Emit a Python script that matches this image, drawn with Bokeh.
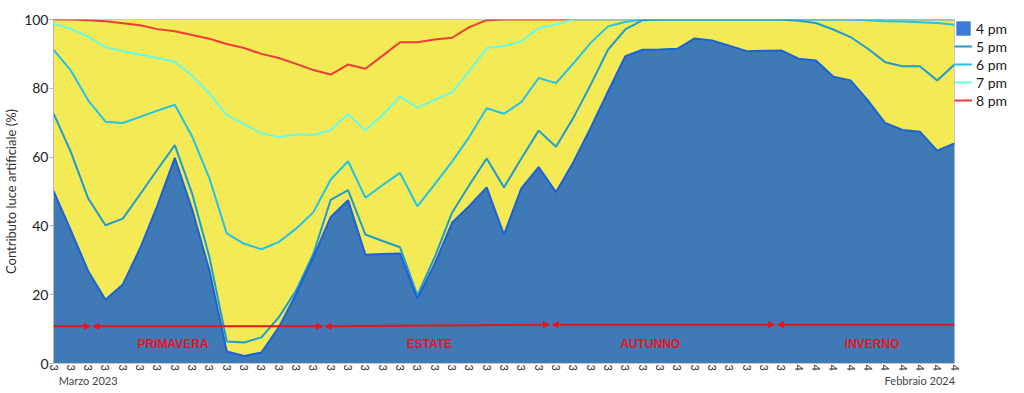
import math
from bokeh.plotting import figure
from bokeh.models import (Range1d, FixedTicker, Label, Arrow, NormalHead,
                          Legend, LegendItem, ColumnDataSource, LinearAxis)
from bokeh.embed import file_html
from bokeh.resources import INLINE

# ---------------- data ----------------
tick_labels = ["3", "3", "3", "3", "3", "3", "3", "3", "3", "3",
               "3", "3", "3", "3", "3", "3", "3", "3", "3", "3",
               "3", "3", "3", "3", "3", "3", "3", "3", "3", "3",
               "3", "3", "3", "3", "3", "3", "3", "3", "3", "3",
               "3", "3", "3", "4", "4", "4", "4", "4", "4", "4",
               "4", "4", "4"]

pm4 = [50.2, 38.7, 26.9, 18.5, 23.0, 33.5, 46.0, 59.8, 44.8, 27.0,
       3.5, 2.2, 3.2, 10.5, 20.2, 30.9, 42.6, 47.5, 31.6, 31.8,
       32.0, 18.8, 29.0, 40.9, 45.8, 51.2, 37.5, 50.9, 57.1, 49.8,
       58.5, 68.5, 79.0, 89.3, 91.2, 91.3, 91.5, 94.5, 93.9, 92.4,
       90.8, 90.9, 91.0, 88.6, 88.1, 83.4, 82.3, 76.5, 69.9, 67.9,
       67.4, 61.9, 64.0]

pm5 = [72.7, 61.5, 48.0, 40.2, 42.1, 49.2, 56.4, 63.5, 49.4, 30.9,
       6.4, 6.1, 7.6, 13.4, 21.2, 31.9, 47.6, 50.4, 37.5, 35.6,
       33.8, 19.8, 30.9, 43.8, 51.9, 59.6, 51.2, 59.6, 67.7, 63.0,
       71.4, 81.0, 91.2, 97.1, 99.8, 100, 100, 100, 100, 100,
       100, 100, 100, 99.6, 99.0, 97.1, 94.9, 91.5, 87.6, 86.4,
       86.4, 82.3, 86.9]

pm6 = [91.2, 85.2, 76.5, 70.3, 69.9, 71.7, 73.5, 75.2, 66.0, 53.8,
       37.8, 34.8, 33.2, 35.3, 39.2, 44.0, 53.5, 58.8, 48.2, 51.9,
       55.4, 45.7, 52.1, 58.7, 65.9, 74.2, 72.6, 76.0, 83.0, 81.5,
       87.2, 93.2, 98.0, 99.3, 100, 100, 100, 100, 100, 100,
       100, 100, 100, 100, 100, 100, 100, 99.8, 99.5, 99.4,
       99.2, 99.0, 98.5]

pm7 = [98.8, 97.3, 95.0, 92.0, 90.8, 89.8, 88.8, 87.7, 83.7, 78.5,
       72.2, 69.6, 66.9, 65.8, 66.6, 66.4, 67.9, 72.5, 67.7, 72.3,
       77.6, 74.4, 76.6, 78.9, 85.0, 91.7, 92.3, 93.6, 97.5, 98.5,
       100, 100, 100, 100, 100, 100, 100, 100, 100, 100,
       100, 100, 100, 100, 100, 100, 100, 100, 100, 100,
       100, 100, 100]

pm8 = [100, 100, 99.8, 99.5, 98.9, 98.3, 97.2, 96.6, 95.5, 94.4,
       92.9, 91.7, 90.0, 88.8, 87.1, 85.3, 84.0, 86.9, 85.7, 89.5,
       93.4, 93.4, 94.2, 94.7, 97.8, 99.8, 100, 100, 100, 100,
       100, 100, 100, 100, 100, 100, 100, 100, 100, 100,
       100, 100, 100, 100, 100, 100, 100, 100, 100, 100,
       100, 100, 100]

series_names = ["4 pm", "5 pm", "6 pm", "7 pm", "8 pm"]

season_names = ["PRIMAVERA", "ESTATE", "AUTUNNO", "INVERNO"]
season_bounds = [2.2, 15.6, 28.7, 41.7]     # week index of season change
season_line_level = [10.8, 10.8, 10.8, 11.3, 11.3, 11.3]
season_label_x = [6.9, 21.7, 34.45, 47.25]

period_labels = ["Marzo 2023", "Febbraio 2024"]
period_label_x = [2, 50]

# ---------------- styling ----------------
FONT = "Lato"
BOLD_FONT = "Liberation Sans"
c4_fill = "#3f7ab6"
c4_line = "#1a62d6"
c5 = "#1f9ccf"
c6 = "#22c2ea"
c7 = "#66fbe8"
c8 = "#ef3b3b"
red = "#e8141c"

x = list(range(len(tick_labels)))
n = len(x) - 1

p = figure(frame_width=901, frame_height=344, output_backend="svg",
           toolbar_location=None,
           x_range=Range1d(0, n), y_range=Range1d(0, 100),
           min_border_left=46, min_border_right=58, min_border_top=19,
           min_border_bottom=5)

p.background_fill_color = "#f3ea56"
p.border_fill_color = "white"
p.outline_line_color = "#c8c8c8"
p.xgrid.visible = False
p.ygrid.visible = False

# y axis
p.yaxis.ticker = FixedTicker(ticks=[0, 20, 40, 60, 80, 100])
p.yaxis.axis_label = "Contributo luce artificiale (%)"
p.yaxis.axis_label_text_font = FONT
p.yaxis.axis_label_text_font_size = "13px"
p.yaxis.axis_label_text_font_style = "normal"
p.yaxis.axis_label_text_color = "#333333"
p.yaxis.axis_label_standoff = 2
p.yaxis.major_label_text_font = FONT
p.yaxis.major_label_text_font_size = "14px"
p.yaxis.major_label_text_color = "#222222"
p.yaxis.major_label_standoff = 1
p.yaxis.axis_line_color = "#b8b8b8"
p.yaxis.major_tick_line_color = "#b8b8b8"
p.yaxis.major_tick_out = 4
p.yaxis.major_tick_in = 0
p.yaxis.minor_tick_line_color = None

# x axis (week ticks)
p.xaxis.ticker = FixedTicker(ticks=x)
p.xaxis.major_label_overrides = {i: lab for i, lab in zip(x, tick_labels)}
p.xaxis.major_label_orientation = "vertical"
p.xaxis.major_label_text_font = FONT
p.xaxis.major_label_text_font_size = "11px"
p.xaxis.major_label_text_color = "#333333"
p.xaxis.major_label_standoff = 1
p.xaxis.axis_line_color = "#c8c8c8"
p.xaxis.major_tick_line_color = None
p.xaxis.major_tick_out = 0
p.xaxis.major_tick_in = 0
p.xaxis.minor_tick_line_color = None
p.xaxis.minor_tick_out = 0

# second bottom axis carrying the period texts
ax2 = LinearAxis(ticker=FixedTicker(ticks=period_label_x),
                 major_label_overrides={k: t for k, t in zip(period_label_x, period_labels)},
                 axis_line_color=None, major_tick_line_color=None,
                 minor_tick_line_color=None, major_tick_out=0, major_tick_in=0,
                 minor_tick_out=0, major_label_standoff=0,
                 major_label_text_font=FONT, major_label_text_font_size="11px",
                 major_label_text_color="#444444")
p.add_layout(ax2, "below")

# ---------------- glyphs ----------------
src = ColumnDataSource(dict(x=x, pm4=pm4, pm5=pm5, pm6=pm6, pm7=pm7, pm8=pm8))

p.varea(x="x", y1=0, y2="pm4", source=src, fill_color=c4_fill)
r8 = p.line("x", "pm8", source=src, line_color=c8, line_width=2)
r7 = p.line("x", "pm7", source=src, line_color=c7, line_width=2)
r6 = p.line("x", "pm6", source=src, line_color=c6, line_width=2)
r5 = p.line("x", "pm5", source=src, line_color=c5, line_width=2)
p.line("x", "pm4", source=src, line_color=c4_line, line_width=2)

# legend swatch for the area series (zero-height area, draws nothing)
r4 = p.varea(x=[0, 1], y1=[0, 0], y2=[0, 0], fill_color="#3d7bd6")

legend = Legend(items=[LegendItem(label=series_names[0], renderers=[r4]),
                       LegendItem(label=series_names[1], renderers=[r5]),
                       LegendItem(label=series_names[2], renderers=[r6]),
                       LegendItem(label=series_names[3], renderers=[r7]),
                       LegendItem(label=series_names[4], renderers=[r8])],
                location="top_left", border_line_color=None,
                background_fill_alpha=0, label_text_font=FONT,
                label_text_font_size="14px", label_text_color="#1a1a1a",
                glyph_width=18, glyph_height=18, label_height=18,
                spacing=0, padding=3, margin=0, label_standoff=4)
p.add_layout(legend, "right")

# ---------------- season arrows ----------------
bounds = [0] + season_bounds + [n]
gap = 0.08
for k in range(len(bounds) - 1):
    x0 = bounds[k] + (gap if k > 0 else 0)
    x1 = bounds[k + 1] - (gap if k < len(bounds) - 2 else 0)
    start = NormalHead(size=6, fill_color=red, line_color=red) if k > 0 else None
    end = NormalHead(size=6, fill_color=red, line_color=red) if k < len(bounds) - 2 else None
    arr = Arrow(x_start=x0, y_start=season_line_level[k], x_end=x1,
                y_end=season_line_level[k + 1], line_color=red, line_width=2,
                start=start, end=end)
    p.add_layout(arr)

for name, sx in zip(season_names, season_label_x):
    p.add_layout(Label(x=sx, y=5.75, text=name, text_align="center",
                       text_baseline="middle", text_color=red,
                       text_font=BOLD_FONT, text_font_style="bold",
                       text_font_size="12px"))

open("out.html", "w").write(file_html(p, INLINE))
